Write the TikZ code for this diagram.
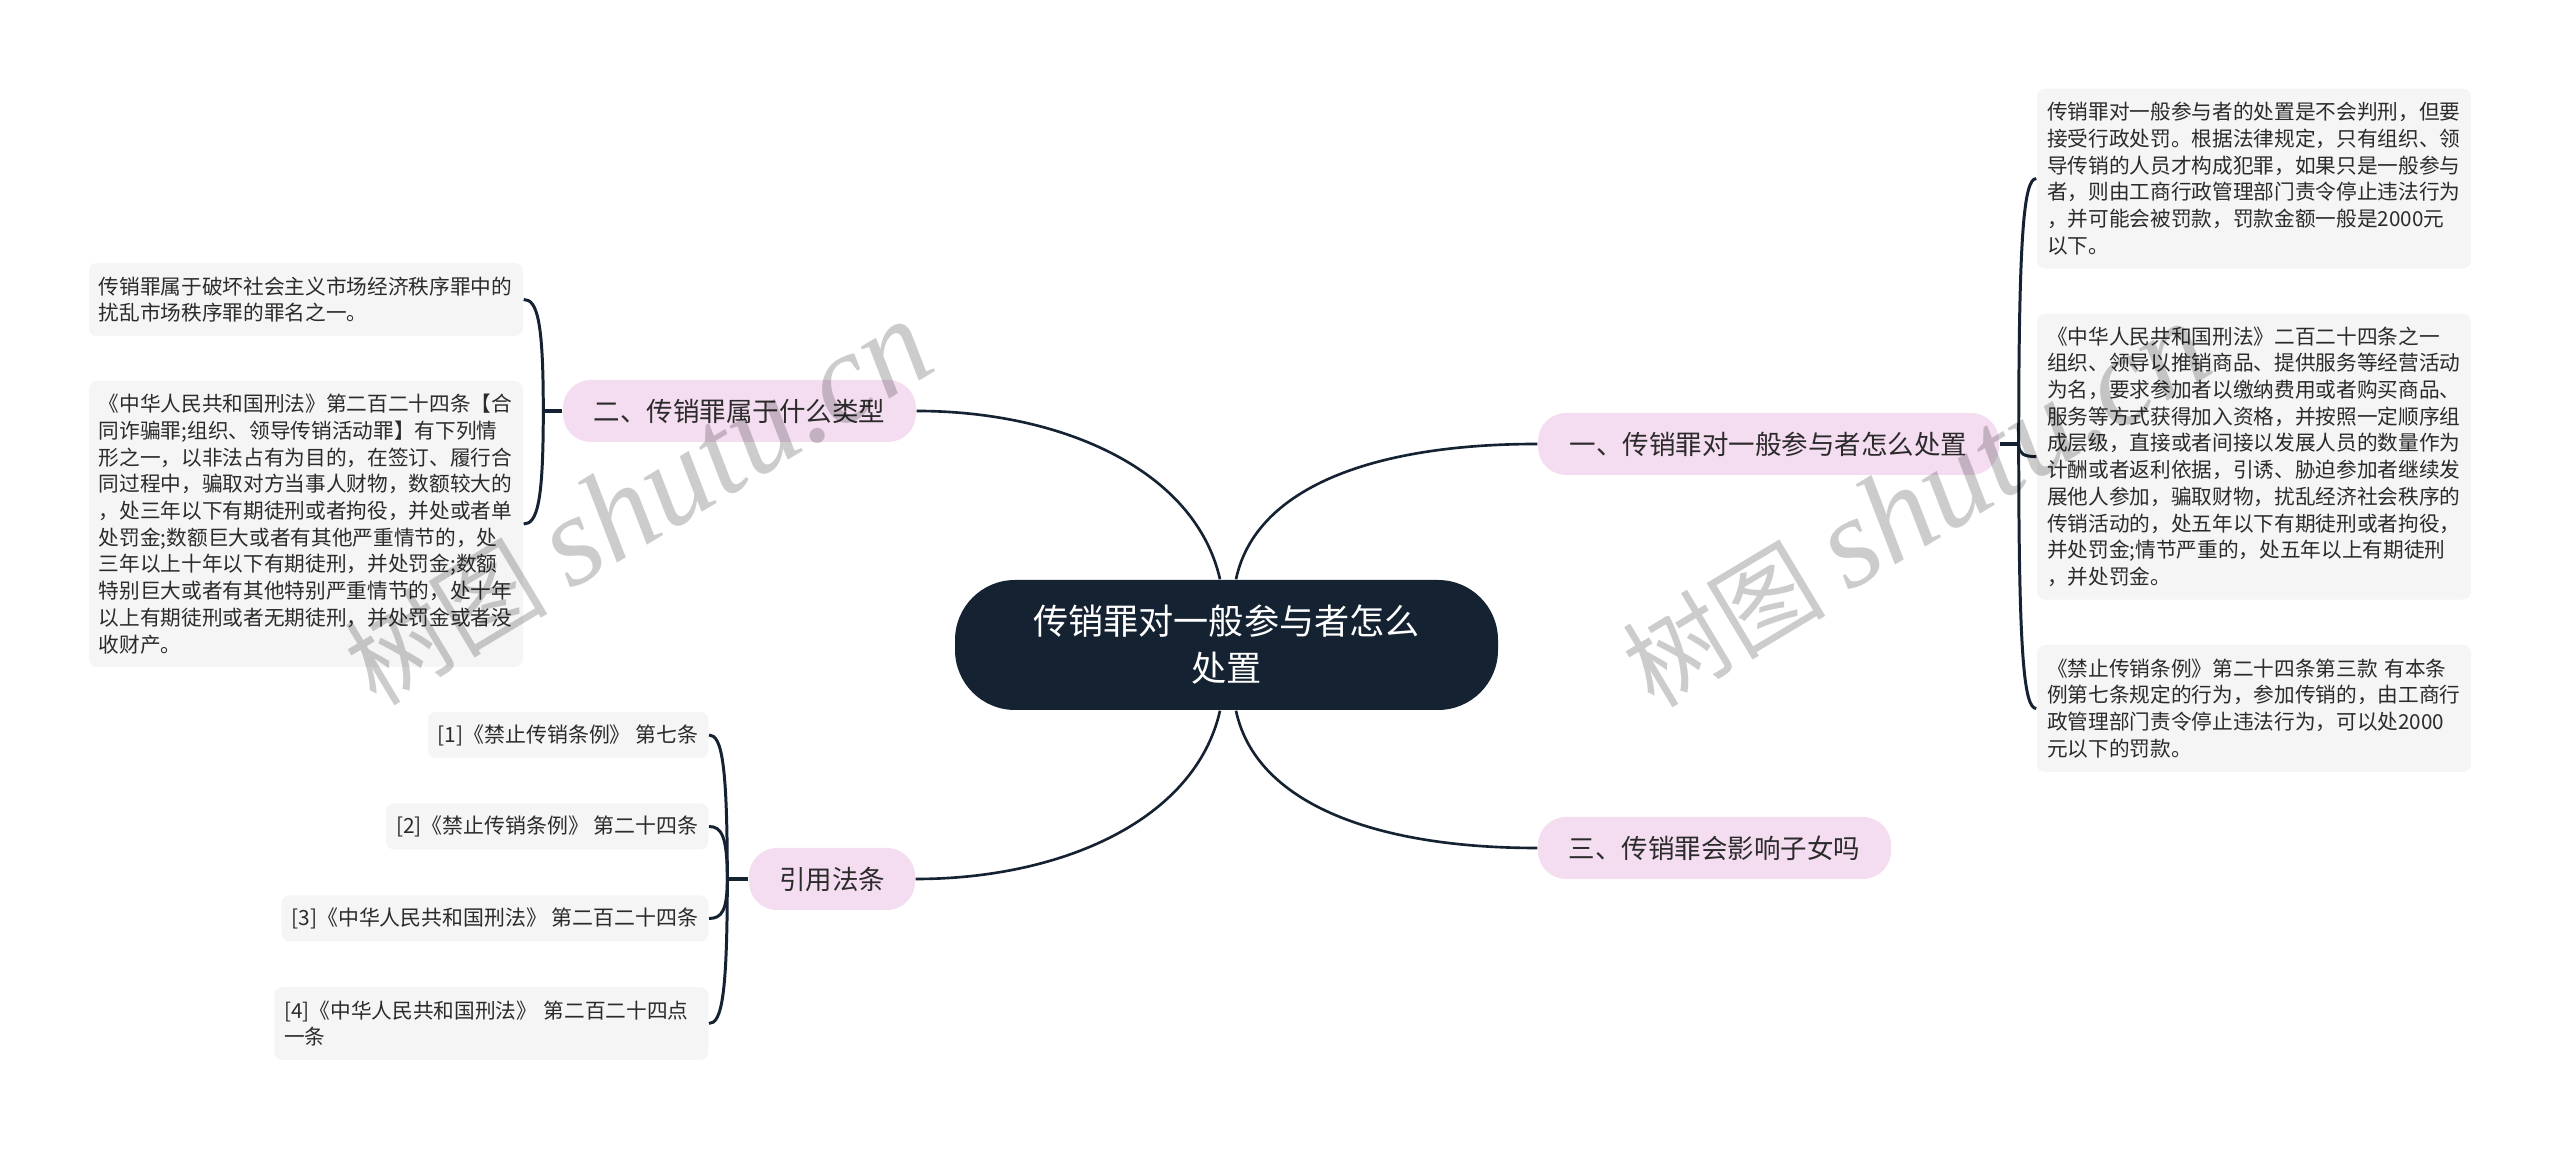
\documentclass[tikz,border=0pt]{standalone}
\usepackage{fontspec}
\setmainfont{Noto Sans CJK SC}
\newfontfamily\markserif{Liberation Serif}
\usetikzlibrary{calc}

\definecolor{rootblue}{HTML}{152232}
\definecolor{pillpink}{HTML}{F4DDF0}
\definecolor{leafgrey}{HTML}{F5F5F5}
\definecolor{inkgrey}{HTML}{2B2B2B}

\tikzset{
	rootnode/.style={fill=rootblue,text=white,rounded corners=0.6cm,minimum width=5.43cm,minimum height=1.3cm,inner sep=0pt,align=center,font=\fontsize{10}{13.4}\selectfont},
	pill/.style={fill=pillpink,text=inkgrey,rounded corners=0.28cm,minimum height=0.62cm,inner sep=0pt,font=\fontsize{7.54}{9}\selectfont},
	leaf/.style={fill=leafgrey,text=inkgrey,rounded corners=0.08cm,text width=4.14cm,inner xsep=0.1cm,inner ysep=0pt,align=left,font=\fontsize{5.88}{7.6}\selectfont},
	cite/.style={fill=leafgrey,text=inkgrey,rounded corners=0.08cm,inner xsep=0.1cm,inner ysep=0pt,minimum height=0.46cm,anchor=east,font=\fontsize{5.95}{7.6}\selectfont},
	branch/.style={draw=rootblue,line width=0.75pt},
	twig/.style={draw=rootblue,line width=0.85pt},
	stub/.style={draw=rootblue,line width=1.15pt},
	watermark/.style={rotate=31,anchor=base west,text=black,text opacity=0.2,inner sep=0pt,font=\fontsize{29}{36}\selectfont}
}

\begin{document}
\begin{tikzpicture}[scale=1]
	\useasboundingbox (0,0) rectangle (25.6,11.49);

	% centre and the four branches
	\node[rootnode] (root) at (12.265,5.04) {传销罪对一般参与者怎么\\处置};
	\node[pill,minimum width=4.61cm] (one) at (17.685,7.05) {一、传销罪对一般参与者怎么处置};
	\node[pill,minimum width=3.53cm] (two) at (7.395,7.38) {二、传销罪属于什么类型};
	\node[pill,minimum width=3.53cm] (three) at (17.145,3.01) {三、传销罪会影响子女吗};
	\node[pill,minimum width=1.66cm] (law) at (8.32,2.70) {引用法条};

	% right leaves
	\node[leaf,minimum height=1.8cm] (onea) at (22.54,9.704) {传销罪对一般参与者的处置是不会判刑，但要\\接受行政处罚。根据法律规定，只有组织、领\\导传销的人员才构成犯罪，如果只是一般参与\\者，则由工商行政管理部门责令停止违法行为\\，并可能会被罚款，罚款金额一般是2000元\\以下。};
	\node[leaf,minimum height=2.86cm] (oneb) at (22.54,6.924) {《中华人民共和国刑法》二百二十四条之一\\组织、领导以推销商品、提供服务等经营活动\\为名，要求参加者以缴纳费用或者购买商品、\\服务等方式获得加入资格，并按照一定顺序组\\成层级，直接或者间接以发展人员的数量作为\\计酬或者返利依据，引诱、胁迫参加者继续发\\展他人参加，骗取财物，扰乱经济社会秩序的\\传销活动的，处五年以下有期徒刑或者拘役，\\并处罚金;情节严重的，处五年以上有期徒刑\\，并处罚金。};
	\node[leaf,minimum height=1.27cm] (onec) at (22.54,4.405) {《禁止传销条例》第二十四条第三款 有本条\\例第七条规定的行为，参加传销的，由工商行\\政管理部门责令停止违法行为，可以处2000\\元以下的罚款。};

	% left leaves
	\node[leaf,minimum height=0.73cm] (twoa) at (3.06,8.495) {传销罪属于破坏社会主义市场经济秩序罪中的\\扰乱市场秩序罪的罪名之一。};
	\node[leaf,minimum height=2.86cm] (twob) at (3.06,6.25) {《中华人民共和国刑法》第二百二十四条【合\\同诈骗罪;组织、领导传销活动罪】有下列情\\形之一，以非法占有为目的，在签订、履行合\\同过程中，骗取对方当事人财物，数额较大的\\，处三年以下有期徒刑或者拘役，并处或者单\\处罚金;数额巨大或者有其他严重情节的，处\\三年以上十年以下有期徒刑，并处罚金;数额\\特别巨大或者有其他特别严重情节的，处十年\\以上有期徒刑或者无期徒刑，并处罚金或者没\\收财产。};

	% citations
	\node[cite] (lawa) at (7.09,4.14) {[1]《禁止传销条例》 第七条};
	\node[cite] (lawb) at (7.09,3.225) {[2]《禁止传销条例》 第二十四条};
	\node[cite] (lawc) at (7.09,2.305) {[3]《中华人民共和国刑法》 第二百二十四条};
	\node[leaf,minimum height=0.73cm,anchor=east] (lawd) at (7.09,1.255) {[4]《中华人民共和国刑法》 第二百二十四点\\一条};

	\coordinate (rootnw) at ($(root.north)+(-0.065,0)$);
	\coordinate (rootne) at ($(root.north)+(0.095,0)$);
	\coordinate (rootsw) at ($(root.south)+(-0.065,0)$);
	\coordinate (rootse) at ($(root.south)+(0.095,0)$);

	\draw[branch] (rootnw) .. controls +(-0.25,1.1) and ($(two.east)+(1.44,0)$) .. (two.east);
	\draw[branch] (rootne) .. controls +(0.19,0.9) and ($(one.west)+(-1.68,0)$) .. (one.west);
	\draw[branch] (rootsw) .. controls +(-0.25,-1.1) and ($(law.east)+(1.45,0)$) .. (law.east);
	\draw[branch] (rootse) .. controls +(0.19,-0.9) and ($(three.west)+(-1.68,0)$) .. (three.west);

	\coordinate (jone) at ($(one.east)+(0.19,0)$);
	\coordinate (jtwo) at ($(two.west)+(-0.19,0)$);
	\coordinate (jlaw) at ($(law.west)+(-0.21,0)$);

	\draw[stub] (one.east)--(jone);
	\draw[stub] (two.west)--(jtwo);
	\draw[stub] (law.west)--(jlaw);

	\foreach \leafname in {onea,oneb,onec}
		\draw[twig] (jone) .. controls ($(jone)!0.8!(jone|-\leafname.west)$) and ($(jone|-\leafname.west)!0.3!(\leafname.west)$) .. (\leafname.west);
	\foreach \leafname in {twoa,twob}
		\draw[twig] (jtwo) .. controls ($(jtwo)!0.8!(jtwo|-\leafname.east)$) and ($(jtwo|-\leafname.east)!0.3!(\leafname.east)$) .. (\leafname.east);
	\foreach \leafname in {lawa,lawb,lawc,lawd}
		\draw[twig] (jlaw) .. controls ($(jlaw)!0.8!(jlaw|-\leafname.east)$) and ($(jlaw|-\leafname.east)!0.3!(\leafname.east)$) .. (\leafname.east);

	% watermarks lie over everything
	\node[watermark] (marka) at (3.76,4.41) {树图 {\markserif\itshape\fontsize{36.5}{36}\selectfont shutu.cn}};
	\node[watermark] (markb) at (16.54,4.39) {树图 {\markserif\itshape\fontsize{36.5}{36}\selectfont shutu.cn}};
\end{tikzpicture}
\end{document}
